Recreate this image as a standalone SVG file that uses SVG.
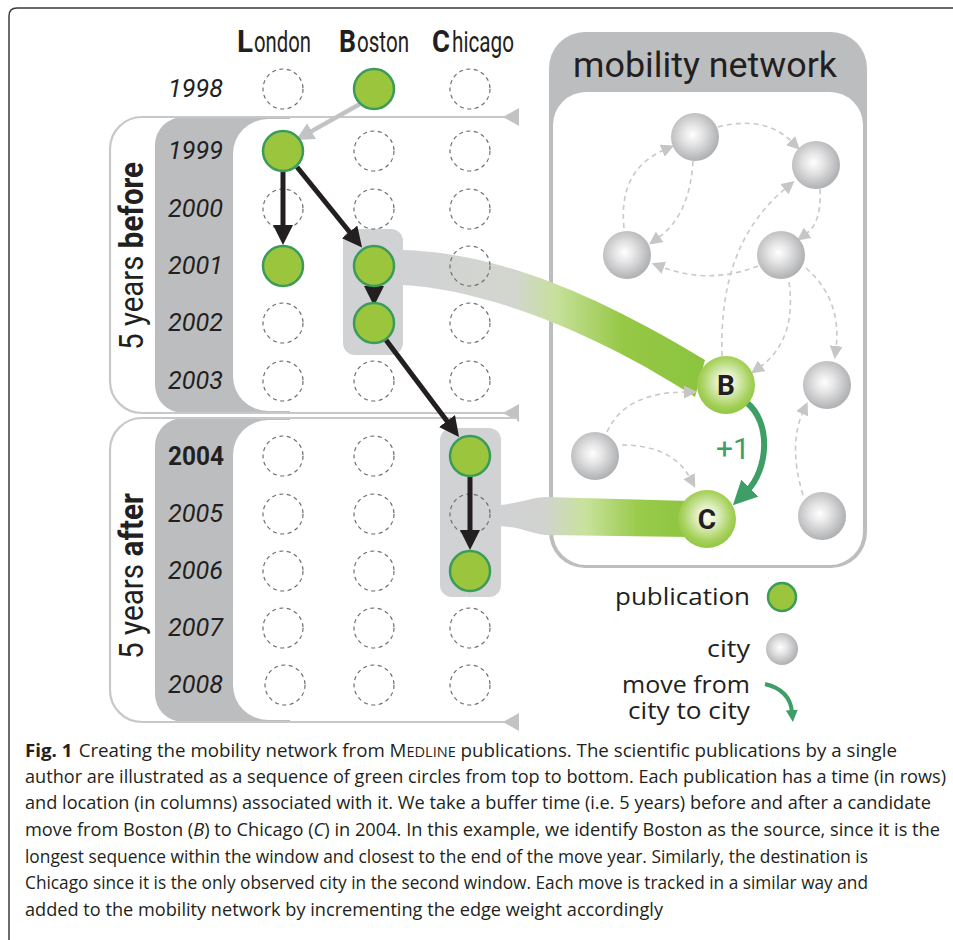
<svg xmlns="http://www.w3.org/2000/svg" width="953" height="940" viewBox="0 0 953 940">
<style>
.hdrB{font-family:Roboto,"Liberation Sans",sans-serif;font-weight:bold;font-size:31px;fill:#231f20}
.hdrR{font-family:Roboto,"Liberation Sans",sans-serif;font-weight:normal;font-size:29px;fill:#231f20}
.yr{font-family:Roboto,"Liberation Sans",sans-serif;font-style:italic;font-size:26px;fill:#231f20;text-anchor:end}
.yrb{font-family:Roboto,"Liberation Sans",sans-serif;font-weight:bold;font-size:26px;fill:#231f20;text-anchor:end}
.side{font-family:Roboto,"Liberation Sans",sans-serif;font-size:34px;fill:#231f20;text-anchor:middle}
.leg{font-family:"Open Sans","Noto Sans",sans-serif;font-size:24px;fill:#231f20;text-anchor:end}
.cap{font-family:"Open Sans","Noto Sans",sans-serif;font-size:18px;fill:#231f20}
.dc{fill:none;stroke:#6d6e71;stroke-width:1.2;stroke-dasharray:4 3.5}
.pub{fill:#9ac53d;stroke:#3a9b5b;stroke-width:2.5}
.city{fill:url(#cityGrad)}
.outline{fill:none;stroke:#c7c8ca;stroke-width:2.2}
.band{fill:#bcbdbf}
.net{fill:none;stroke:#c9c9c9;stroke-width:1.6;stroke-dasharray:5 4;marker-end:url(#ahN)}
.blk{fill:none;stroke:#231f20;stroke-width:5;marker-end:url(#ahB)}
</style>
<defs>
<radialGradient id="cityGrad" cx="0.45" cy="0.45" r="0.6">
<stop offset="0" stop-color="#ffffff"/>
<stop offset="0.35" stop-color="#e4e4e5"/>
<stop offset="1" stop-color="#a8a9ab"/>
</radialGradient>
<radialGradient id="greenGrad" cx="0.5" cy="0.45" r="0.58">
<stop offset="0" stop-color="#ffffff"/>
<stop offset="0.3" stop-color="#e1efc4"/>
<stop offset="0.75" stop-color="#a4d058"/>
<stop offset="1" stop-color="#8cc43f"/>
</radialGradient>
<linearGradient id="bandUp" gradientUnits="userSpaceOnUse" x1="402" y1="0" x2="700" y2="0">
<stop offset="0" stop-color="#d1d2d4"/>
<stop offset="0.38" stop-color="#d3d6cf"/>
<stop offset="0.52" stop-color="#c6e09a"/>
<stop offset="0.74" stop-color="#96c845"/>
<stop offset="1" stop-color="#8cc43f"/>
</linearGradient>
<linearGradient id="bandLo" gradientUnits="userSpaceOnUse" x1="500" y1="0" x2="690" y2="0">
<stop offset="0" stop-color="#d1d2d4"/>
<stop offset="0.22" stop-color="#d1d3d0"/>
<stop offset="0.45" stop-color="#c8e29c"/>
<stop offset="0.72" stop-color="#9acb4c"/>
<stop offset="1" stop-color="#8cc43f"/>
</linearGradient>
<marker id="ahB" viewBox="0 0 20 20" markerWidth="20" markerHeight="20" refX="4" refY="10" orient="auto" markerUnits="userSpaceOnUse"><path d="M0,0 L20,10 L0,20 Z" fill="#231f20"/></marker>
<marker id="ahG" viewBox="0 0 18 18" markerWidth="18" markerHeight="18" refX="3" refY="9" orient="auto" markerUnits="userSpaceOnUse"><path d="M0,0 L18,9 L0,18 Z" fill="#c2c3c5"/></marker>
<marker id="ahN" viewBox="0 0 13 13" markerWidth="13" markerHeight="13" refX="2" refY="6.5" orient="auto" markerUnits="userSpaceOnUse"><path d="M0,0 L13,6.5 L0,13 Z" fill="#c6c6c6"/></marker>
<marker id="ahGreen" viewBox="0 0 24 24" markerWidth="24" markerHeight="24" refX="4" refY="12" orient="auto" markerUnits="userSpaceOnUse"><path d="M0,0 L24,12 L0,24 Z" fill="#3d9e66"/></marker>
<marker id="ahGreenS" viewBox="0 0 12 12" markerWidth="12" markerHeight="12" refX="2" refY="6" orient="auto" markerUnits="userSpaceOnUse"><path d="M0,0 L12,6 L0,12 Z" fill="#3d9e66"/></marker>
</defs>

<rect x="0" y="0" width="953" height="940" fill="#ffffff"/>
<path d="M9 940 L9 16 Q9 8 17 8 L953 8" fill="none" stroke="#3a3a3a" stroke-width="1.5"/>

<!-- window panels -->
<g id="panel-before">
<path d="M517 117 L142 117 A32 32 0 0 0 110 149 L110 381 A32 32 0 0 0 142 413 L517 413 Z" fill="#ffffff"/>
<path class="band" d="M183 117 L290 117 L290 413 L183 413 A28 28 0 0 1 155 385 L155 145 A28 28 0 0 1 183 117 Z"/>
<path d="M268 119 L517 119 L517 411 L268 411 A35 35 0 0 1 233 376 L233 154 A35 35 0 0 1 268 119 Z" fill="#ffffff"/>
<path class="outline" d="M517 117 L142 117 A32 32 0 0 0 110 149 L110 381 A32 32 0 0 0 142 413 L517 413"/>
<polygon points="503,117 519,108 519,126" fill="#c2c3c5"/>
<polygon points="503,413 519,404 519,422" fill="#c2c3c5"/>
<text class="side" transform="translate(143,256) rotate(-90)" textLength="188" lengthAdjust="spacingAndGlyphs">5 years <tspan font-weight="bold">before</tspan></text>
</g>
<g id="panel-after">
<path d="M517 418 L142 418 A32 32 0 0 0 110 450 L110 690 A32 32 0 0 0 142 722 L517 722 Z" fill="#ffffff"/>
<path class="band" d="M183 418 L290 418 L290 722 L183 722 A28 28 0 0 1 155 694 L155 446 A28 28 0 0 1 183 418 Z"/>
<path d="M268 420 L517 420 L517 720 L268 720 A35 35 0 0 1 233 685 L233 455 A35 35 0 0 1 268 420 Z" fill="#ffffff"/>
<path class="outline" d="M517 418 L142 418 A32 32 0 0 0 110 450 L110 690 A32 32 0 0 0 142 722 L517 722"/>
<polygon points="503,722 519,713 519,731" fill="#c2c3c5"/>
<text class="side" transform="translate(143,576) rotate(-90)" textLength="166" lengthAdjust="spacingAndGlyphs">5 years <tspan font-weight="bold">after</tspan></text>
</g>

<!-- column headers -->
<g id="headers">
<text class="hdrB" x="237" y="52" textLength="16" lengthAdjust="spacingAndGlyphs">L</text>
<text class="hdrR" x="254" y="52" textLength="57" lengthAdjust="spacingAndGlyphs">ondon</text>
<text class="hdrB" x="339" y="52" textLength="17" lengthAdjust="spacingAndGlyphs">B</text>
<text class="hdrR" x="357" y="52" textLength="52" lengthAdjust="spacingAndGlyphs">oston</text>
<text class="hdrB" x="432" y="52" textLength="18" lengthAdjust="spacingAndGlyphs">C</text>
<text class="hdrR" x="452" y="52" textLength="62" lengthAdjust="spacingAndGlyphs">hicago</text>
</g>

<!-- year labels -->
<g id="years">
<text class="yr" x="223" y="97" textLength="55" lengthAdjust="spacingAndGlyphs">1998</text>
<text class="yr" x="223" y="159" textLength="55" lengthAdjust="spacingAndGlyphs">1999</text>
<text class="yr" x="223" y="217" textLength="55" lengthAdjust="spacingAndGlyphs">2000</text>
<text class="yr" x="223" y="274" textLength="55" lengthAdjust="spacingAndGlyphs">2001</text>
<text class="yr" x="223" y="331" textLength="55" lengthAdjust="spacingAndGlyphs">2002</text>
<text class="yr" x="223" y="389" textLength="55" lengthAdjust="spacingAndGlyphs">2003</text>
<text class="yrb" x="224" y="465" textLength="56" lengthAdjust="spacingAndGlyphs">2004</text>
<text class="yr" x="223" y="522" textLength="55" lengthAdjust="spacingAndGlyphs">2005</text>
<text class="yr" x="223" y="579" textLength="55" lengthAdjust="spacingAndGlyphs">2006</text>
<text class="yr" x="223" y="636" textLength="55" lengthAdjust="spacingAndGlyphs">2007</text>
<text class="yr" x="223" y="693" textLength="55" lengthAdjust="spacingAndGlyphs">2008</text>
</g>

<!-- mobility network panel -->
<g id="network-panel">
<rect x="549" y="32" width="318" height="536" rx="36" fill="#bcbdbf"/>
<rect x="553" y="92" width="310" height="473" rx="33" fill="#ffffff"/>
<text x="705" y="77" font-family="Roboto, 'Liberation Sans', sans-serif" font-size="35" fill="#231f20" text-anchor="middle" textLength="264" lengthAdjust="spacingAndGlyphs">mobility network</text>
</g>

<!-- connectors -->
<g id="connectors">
<path d="M402 250 C470 252 560 272 705 360 L695 397 C580 322 470 288 402 285 Z" fill="url(#bandUp)"/>
<path d="M500 505 C520 503 530 498 545 497 L690 501 L690 537 L545 535 C530 533 520 527 500 526 Z" fill="url(#bandLo)"/>
<path class="net" d="M718 127 Q765 115 792 142"/>
<path class="net" d="M624 228 Q618 170 664 150"/>
<path class="net" d="M693 161 Q690 215 658 238"/>
<path class="net" d="M820 189 Q822 222 806 234"/>
<path class="net" d="M758 266 Q710 285 662 267"/>
<path class="net" d="M722 356 C720 290 735 230 786 188"/>
<path class="net" d="M789 282 Q797 340 760 367"/>
<path class="net" d="M806 268 Q842 300 836 348"/>
<path class="net" d="M607 432 Q625 392 686 392"/>
<path class="net" d="M622 445 Q672 445 690 478"/>
<path class="net" d="M803 495 Q788 445 803 412"/>
<path d="M746 402 C772 422 768 470 747 491" fill="none" stroke="#3d9e66" stroke-width="6" marker-end="url(#ahGreen)"/>
</g>

<!-- highlight boxes -->
<g id="box-boston"><rect x="343" y="229" width="60" height="126" rx="12" fill="#d1d2d4"/></g>
<g id="box-chicago"><rect x="440" y="428" width="61" height="169" rx="12" fill="#d1d2d4"/></g>

<!-- empty grid cells -->
<g id="empty-cells">
<circle class="dc" cx="283" cy="89" r="20"/><circle class="dc" cx="470" cy="89" r="20"/>
<circle class="dc" cx="374" cy="151" r="20"/><circle class="dc" cx="470" cy="151" r="20"/>
<circle class="dc" cx="283" cy="209" r="20"/><circle class="dc" cx="374" cy="209" r="20"/><circle class="dc" cx="470" cy="209" r="20"/>
<circle class="dc" cx="470" cy="266" r="20"/>
<circle class="dc" cx="283" cy="323" r="20"/><circle class="dc" cx="470" cy="323" r="20"/>
<circle class="dc" cx="283" cy="381" r="20"/><circle class="dc" cx="374" cy="381" r="20"/><circle class="dc" cx="470" cy="381" r="20"/>
<circle class="dc" cx="283" cy="456" r="20"/><circle class="dc" cx="374" cy="456" r="20"/>
<circle class="dc" cx="283" cy="514" r="20"/><circle class="dc" cx="374" cy="514" r="20"/><circle class="dc" cx="470" cy="514" r="20"/>
<circle class="dc" cx="283" cy="571" r="20"/><circle class="dc" cx="374" cy="571" r="20"/>
<circle class="dc" cx="283" cy="628" r="20"/><circle class="dc" cx="374" cy="628" r="20"/><circle class="dc" cx="470" cy="628" r="20"/>
<circle class="dc" cx="285" cy="685" r="20"/><circle class="dc" cx="374" cy="685" r="20"/><circle class="dc" cx="470" cy="685" r="20"/>
</g>

<!-- sequence arrows -->
<g id="sequence-arrows">
<path d="M360 104 L309 132.6" fill="none" stroke="#c2c3c5" stroke-width="4.5" marker-end="url(#ahG)"/>
<path class="blk" d="M283 172 L283 229"/>
<path class="blk" d="M297 167 L352 235"/>
<path class="blk" d="M374 284 L374 290"/>
<path class="blk" d="M386 340 L449.4 424.2"/>
<path class="blk" d="M470 477 L470 534"/>
</g>

<!-- publications -->
<g id="pub-1998-boston"><circle class="pub" cx="374" cy="89" r="20"/></g>
<g id="pub-1999-london"><circle class="pub" cx="283" cy="151" r="20"/></g>
<g id="pub-2001-london"><circle class="pub" cx="283" cy="266" r="20"/></g>
<g id="pub-2001-boston"><circle class="pub" cx="374" cy="266" r="20"/></g>
<g id="pub-2002-boston"><circle class="pub" cx="374" cy="323" r="20"/></g>
<g id="pub-2004-chicago"><circle class="pub" cx="470" cy="456" r="20"/></g>
<g id="pub-2006-chicago"><circle class="pub" cx="470" cy="571" r="20"/></g>

<!-- city nodes -->
<g id="city-1"><circle class="city" cx="695" cy="137" r="24"/></g>
<g id="city-2"><circle class="city" cx="816" cy="165" r="24"/></g>
<g id="city-3"><circle class="city" cx="627" cy="255" r="24"/></g>
<g id="city-4"><circle class="city" cx="781" cy="255" r="24"/></g>
<g id="city-5"><circle class="city" cx="827" cy="385" r="24"/></g>
<g id="city-6"><circle class="city" cx="595" cy="456" r="24"/></g>
<g id="city-7"><circle class="city" cx="822" cy="516" r="24"/></g>
<g id="city-B"><circle cx="726" cy="385" r="29" fill="url(#greenGrad)"/>
<text x="726" y="395" font-family="Roboto, 'Liberation Sans', sans-serif" font-weight="bold" font-size="28" fill="#231f20" text-anchor="middle">B</text></g>
<g id="city-C"><circle cx="707" cy="519" r="29" fill="url(#greenGrad)"/>
<text x="707" y="529" font-family="Roboto, 'Liberation Sans', sans-serif" font-weight="bold" font-size="28" fill="#231f20" text-anchor="middle">C</text></g>
<g id="edge-label"><text x="733" y="459" font-family="Roboto, 'Liberation Sans', sans-serif" font-size="30" fill="#3d9e66" text-anchor="middle">+1</text></g>

<!-- legend -->
<g id="legend">
<text class="leg" x="750" y="605" textLength="135" lengthAdjust="spacingAndGlyphs">publication</text>
<circle class="pub" cx="782" cy="597" r="14"/>
<text class="leg" x="750" y="657" textLength="43" lengthAdjust="spacingAndGlyphs">city</text>
<circle class="city" cx="782" cy="649" r="16"/>
<text class="leg" x="750" y="693" textLength="128" lengthAdjust="spacingAndGlyphs">move from</text>
<text class="leg" x="750" y="719" textLength="122" lengthAdjust="spacingAndGlyphs">city to city</text>
<path d="M765 684 Q790 690 792 712" fill="none" stroke="#3d9e66" stroke-width="4" marker-end="url(#ahGreenS)"/>
</g>

<!-- caption -->
<g id="caption">
<text class="cap" x="25" y="757" textLength="872" lengthAdjust="spacingAndGlyphs"><tspan font-weight="bold">Fig. 1</tspan><tspan dx="6">Creating the mobility network from M</tspan><tspan font-size="14">EDLINE</tspan> publications. The scientific publications by a single</text>
<text class="cap" x="25" y="783" textLength="921" lengthAdjust="spacingAndGlyphs">author are illustrated as a sequence of green circles from top to bottom. Each publication has a time (in rows)</text>
<text class="cap" x="25" y="809" textLength="906" lengthAdjust="spacingAndGlyphs">and location (in columns) associated with it. We take a buffer time (i.e. 5 years) before and after a candidate</text>
<text class="cap" x="25" y="836" textLength="915" lengthAdjust="spacingAndGlyphs">move from Boston (<tspan font-style="italic">B</tspan>) to Chicago (<tspan font-style="italic">C</tspan>) in 2004. In this example, we identify Boston as the source, since it is the</text>
<text class="cap" x="25" y="863" textLength="843" lengthAdjust="spacingAndGlyphs">longest sequence within the window and closest to the end of the move year. Similarly, the destination is</text>
<text class="cap" x="25" y="889" textLength="843" lengthAdjust="spacingAndGlyphs">Chicago since it is the only observed city in the second window. Each move is tracked in a similar way and</text>
<text class="cap" x="25" y="916" textLength="638" lengthAdjust="spacingAndGlyphs">added to the mobility network by incrementing the edge weight accordingly</text>
</g>
</svg>
